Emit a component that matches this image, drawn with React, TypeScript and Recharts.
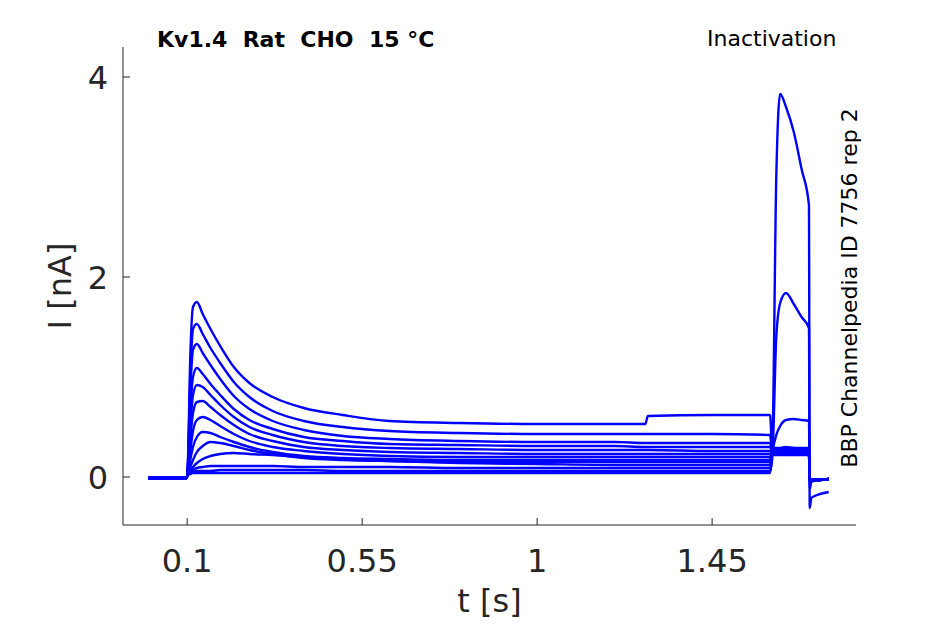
import React from 'react';
import { LineChart, Line, XAxis, YAxis } from 'recharts';

// sample times [s]; near-duplicate points carry the voltage steps
const times = [
  0, 0.099, 0.101, 0.108, 0.115, 0.125, 0.14, 0.16, 0.185, 0.22, 0.26, 0.32, 0.4, 0.5, 0.62, 0.8,
  1.0, 1.2, 1.278, 1.285, 1.45, 1.599, 1.605, 1.615, 1.625, 1.64, 1.66, 1.68, 1.699, 1.701, 1.705,
  1.72, 1.75,
];

// currents [nA], one array per sweep
const sweep1 = [-0.01, -0.01, 0.05, 1.2, 1.7, 1.75, 1.63, 1.48, 1.31, 1.1, 0.94, 0.8, 0.69, 0.62, 0.56, 0.54, 0.53, 0.53, 0.53, 0.61, 0.62, 0.62, 0.22, 0.22, 0.22, 0.22, 0.22, 0.22, 0.22, -0.05, -0.03, -0.03, -0.02];
const sweep2 = [-0.01, -0.01, 0.05, 1.0, 1.48, 1.53, 1.43, 1.29, 1.14, 0.95, 0.8, 0.66, 0.56, 0.5, 0.46, 0.44, 0.43, 0.43, 0.43, 0.43, 0.43, 0.42, 0.23, 0.23, 0.23, 0.23, 0.23, 0.23, 0.23, -0.05, -0.03, -0.03, -0.02];
const sweep3 = [-0.01, -0.01, 0.05, 0.85, 1.27, 1.33, 1.24, 1.12, 0.98, 0.81, 0.68, 0.56, 0.47, 0.41, 0.38, 0.36, 0.35, 0.35, 0.34, 0.34, 0.34, 0.34, 0.23, 0.24, 0.24, 0.24, 0.23, 0.24, 0.24, -0.05, -0.03, -0.03, -0.02];
const sweep4 = [-0.01, -0.01, 0.04, 0.65, 1.0, 1.09, 1.03, 0.93, 0.82, 0.68, 0.57, 0.48, 0.4, 0.36, 0.33, 0.32, 0.31, 0.31, 0.3, 0.3, 0.3, 0.3, 0.24, 0.24, 0.25, 0.25, 0.24, 0.25, 0.24, -0.05, -0.03, -0.03, -0.02];
const sweep5 = [-0.01, -0.01, 0.04, 0.5, 0.82, 0.92, 0.9, 0.82, 0.72, 0.6, 0.5, 0.42, 0.35, 0.31, 0.29, 0.28, 0.27, 0.27, 0.27, 0.27, 0.26, 0.26, 0.25, 0.25, 0.25, 0.26, 0.25, 0.25, 0.25, -0.05, -0.03, -0.03, -0.02];
const sweep6 = [-0.01, -0.01, 0.04, 0.38, 0.64, 0.75, 0.76, 0.7, 0.62, 0.52, 0.43, 0.36, 0.3, 0.27, 0.25, 0.24, 0.23, 0.23, 0.23, 0.23, 0.23, 0.23, 0.25, 0.26, 0.26, 0.26, 0.26, 0.25, 0.26, -0.05, -0.03, -0.03, -0.02];
const sweep7 = [-0.01, -0.01, 0.03, 0.26, 0.46, 0.57, 0.6, 0.57, 0.51, 0.43, 0.36, 0.3, 0.26, 0.23, 0.21, 0.2, 0.2, 0.2, 0.2, 0.2, 0.2, 0.2, 0.26, 0.26, 0.27, 0.27, 0.26, 0.27, 0.26, -0.05, -0.03, -0.03, -0.02];
const sweep8 = [-0.01, -0.01, 0.03, 0.17, 0.3, 0.4, 0.45, 0.44, 0.4, 0.35, 0.3, 0.25, 0.21, 0.19, 0.18, 0.17, 0.17, 0.17, 0.17, 0.17, 0.17, 0.17, 0.27, 0.27, 0.27, 0.28, 0.27, 0.27, 0.27, -0.05, -0.03, -0.03, -0.02];
const sweep9 = [-0.01, -0.01, 0.03, 0.1, 0.17, 0.25, 0.31, 0.35, 0.34, 0.31, 0.27, 0.23, 0.19, 0.17, 0.16, 0.15, 0.15, 0.15, 0.15, 0.15, 0.15, 0.15, 0.28, 0.28, 0.28, 0.28, 0.29, 0.28, 0.28, -0.05, -0.03, -0.03, -0.02];
const sweep10 = [-0.01, -0.01, 0.02, 0.06, 0.1, 0.14, 0.18, 0.21, 0.23, 0.24, 0.23, 0.22, 0.2, 0.18, 0.16, 0.14, 0.13, 0.12, 0.12, 0.12, 0.12, 0.12, 0.29, 0.29, 0.29, 0.3, 0.29, 0.29, 0.29, -0.05, -0.03, -0.03, -0.02];
const sweep11 = [-0.01, -0.01, 0.02, 0.05, 0.07, 0.09, 0.1, 0.11, 0.11, 0.11, 0.11, 0.11, 0.1, 0.1, 0.1, 0.09, 0.09, 0.09, 0.09, 0.09, 0.09, 0.09, 0.25, 0.42, 0.51, 0.57, 0.58, 0.57, 0.56, -0.06, -0.04, -0.03, -0.02];
const sweep12 = [-0.01, -0.01, 0.02, 0.04, 0.05, 0.06, 0.06, 0.06, 0.07, 0.07, 0.07, 0.07, 0.07, 0.06, 0.06, 0.06, 0.06, 0.06, 0.06, 0.06, 0.06, 0.06, 0.2, 1.4, 1.74, 1.84, 1.73, 1.6, 1.49, -0.12, -0.05, -0.03, -0.02];
const sweep13 = [-0.01, -0.01, 0.02, 0.03, 0.04, 0.04, 0.04, 0.04, 0.04, 0.04, 0.04, 0.04, 0.04, 0.04, 0.04, 0.04, 0.04, 0.04, 0.04, 0.04, 0.04, 0.04, 0.3, 3.0, 3.83, 3.7, 3.45, 3.08, 2.72, -0.31, -0.21, -0.18, -0.15];

const sweeps = [sweep1, sweep2, sweep3, sweep4, sweep5, sweep6, sweep7, sweep8, sweep9, sweep10, sweep11, sweep12, sweep13];

const xTicks = [0.1, 0.55, 1, 1.45];
const yTicks = [0, 2, 4];

const data = times.map((t, i) => {
  const row: Record<string, number> = { t };
  sweeps.forEach((s, k) => {
    row[`s${k}`] = s[i];
  });
  return row;
});

const FONT = '"DejaVu Sans", sans-serif';
const AXIS = '#262626';

const YTick = ({ x, y, payload }: any) => (
  <g>
    <line x1={x} x2={x + 7} y1={y} y2={y} stroke={AXIS} strokeWidth={1} />
    <text x={x - 15} y={y + 11.5} textAnchor="end" fontSize={32} fontFamily={FONT} fill={AXIS}>
      {payload.value}
    </text>
  </g>
);

const XTick = ({ x, y, payload }: any) => (
  <g>
    <line x1={x} x2={x} y1={y} y2={y - 7} stroke={AXIS} strokeWidth={1} />
    <text x={x} y={572} textAnchor="middle" fontSize={32} fontFamily={FONT} fill={AXIS}>
      {payload.value}
    </text>
  </g>
);

export default function App() {
  return (
    <div style={{ position: 'absolute', left: 0, top: 0, width: 945, height: 624, background: '#fff' }}>
      <LineChart width={945} height={624} data={data} margin={{ top: 47, right: 89, bottom: 0, left: 0 }}>
        <XAxis
          dataKey="t"
          type="number"
          domain={[-0.065, 1.82]}
          allowDataOverflow
          ticks={xTicks}
          interval={0}
          height={99}
          tickSize={0}
          tickMargin={0}
          tickLine={false}
          axisLine={{ stroke: AXIS, strokeWidth: 1 }}
          tick={(p: any) => <XTick {...p} />}
        />
        <YAxis
          type="number"
          domain={[-0.48, 4.3]}
          allowDataOverflow
          ticks={yTicks}
          interval={0}
          width={123}
          tickSize={0}
          tickMargin={0}
          tickLine={false}
          axisLine={{ stroke: AXIS, strokeWidth: 1 }}
          tick={(p: any) => <YTick {...p} />}
        />
        {sweeps.map((_, k) => (
          <Line
            key={k}
            dataKey={`s${k}`}
            type="monotone"
            stroke="#0000ff"
            strokeWidth={2.4}
            dot={false}
            activeDot={false}
            isAnimationActive={false}
          />
        ))}
      </LineChart>
      <svg width={945} height={624} style={{ position: 'absolute', left: 0, top: 0, pointerEvents: 'none' }}>
        <text x={157} y={47} fontSize={22} fontWeight="bold" fontFamily={FONT} fill="#000">
          {'Kv1.4\u00a0\u00a0Rat\u00a0\u00a0CHO\u00a0\u00a015\u00a0°C'}
        </text>
        <text x={707} y={46} fontSize={22} fontFamily={FONT} fill="#000">
          Inactivation
        </text>
        <text
          x={857}
          y={288}
          fontSize={22}
          fontFamily={FONT}
          fill="#000"
          textAnchor="middle"
          transform="rotate(-90 857 288)"
        >
          BBP Channelpedia ID 7756 rep 2
        </text>
        <text
          x={71}
          y={286}
          fontSize={32}
          fontFamily={FONT}
          fill={AXIS}
          textAnchor="middle"
          transform="rotate(-90 71 286)"
        >
          I [nA]
        </text>
        <text x={489.5} y={612} fontSize={32} fontFamily={FONT} fill={AXIS} textAnchor="middle">
          t [s]
        </text>
      </svg>
    </div>
  );
}
